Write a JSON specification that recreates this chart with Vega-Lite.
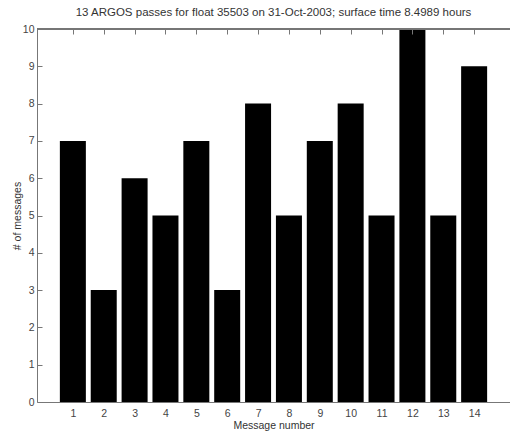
{
  "$schema": "https://vega.github.io/schema/vega-lite/v6.json",
  "autosize": {"type": "none"},
  "width": 473,
  "height": 373,
  "padding": {"left": 37, "top": 29, "right": 0, "bottom": 31},
  "background": "white",
  "title": {
    "text": "13 ARGOS passes for float 35503 on 31-Oct-2003; surface time 8.4989 hours",
    "font": "Liberation Sans",
    "fontSize": 11.5,
    "fontWeight": "normal",
    "color": "#333",
    "anchor": "middle",
    "offset": 6
  },
  "config": {
    "view": {"stroke": null},
    "axis": {
      "labelFont": "Liberation Sans",
      "labelFontSize": 10.5,
      "labelColor": "#444",
      "titleFont": "Liberation Sans",
      "titleFontSize": 10.5,
      "titleFontWeight": "normal",
      "titleColor": "#333",
      "domainColor": "#777",
      "tickColor": "#777",
      "grid": false
    }
  },
  "data": {
    "values": [
      {"message": 1, "count": 7},
      {"message": 2, "count": 3},
      {"message": 3, "count": 6},
      {"message": 4, "count": 5},
      {"message": 5, "count": 7},
      {"message": 6, "count": 3},
      {"message": 7, "count": 8},
      {"message": 8, "count": 5},
      {"message": 9, "count": 7},
      {"message": 10, "count": 8},
      {"message": 11, "count": 5},
      {"message": 12, "count": 10},
      {"message": 13, "count": 5},
      {"message": 14, "count": 9}
    ]
  },
  "layer": [
    {
      "mark": {"type": "tick", "opacity": 0},
      "encoding": {
        "x": {
          "field": "message",
          "type": "quantitative",
          "scale": {"domain": [0, 15], "nice": false},
          "axis": {
            "orient": "top",
            "title": null,
            "labels": false,
            "domain": false,
            "values": [1, 2, 3, 4, 5, 6, 7, 8, 9, 10, 11, 12, 13, 14],
            "tickSize": -5,
            "zindex": 1
          }
        }
      }
    },
    {
      "mark": {"type": "bar", "size": 26, "color": "black"},
      "encoding": {
        "x": {
          "field": "message",
          "type": "quantitative",
          "scale": {"domain": [0, 15], "nice": false},
          "axis": {
            "title": "Message number",
            "values": [1, 2, 3, 4, 5, 6, 7, 8, 9, 10, 11, 12, 13, 14],
            "tickSize": -5,
            "labelPadding": 11,
            "titlePadding": 2,
            "labelFlush": false,
            "labelOverlap": false
          }
        },
        "y": {
          "field": "count",
          "type": "quantitative",
          "scale": {"domain": [0, 10], "nice": false},
          "axis": {
            "title": "# of messages",
            "values": [0, 1, 2, 3, 4, 5, 6, 7, 8, 9, 10],
            "tickSize": -5,
            "labelPadding": 8,
            "titlePadding": 0,
            "labelFlush": false,
            "labelOverlap": false
          }
        }
      }
    },
    {
      "mark": {"type": "rule", "color": "#777", "strokeWidth": 1},
      "encoding": {"y": {"datum": 10, "axis": null}}
    }
  ],
  "resolve": {"axis": {"x": "independent", "y": "independent"}}
}
